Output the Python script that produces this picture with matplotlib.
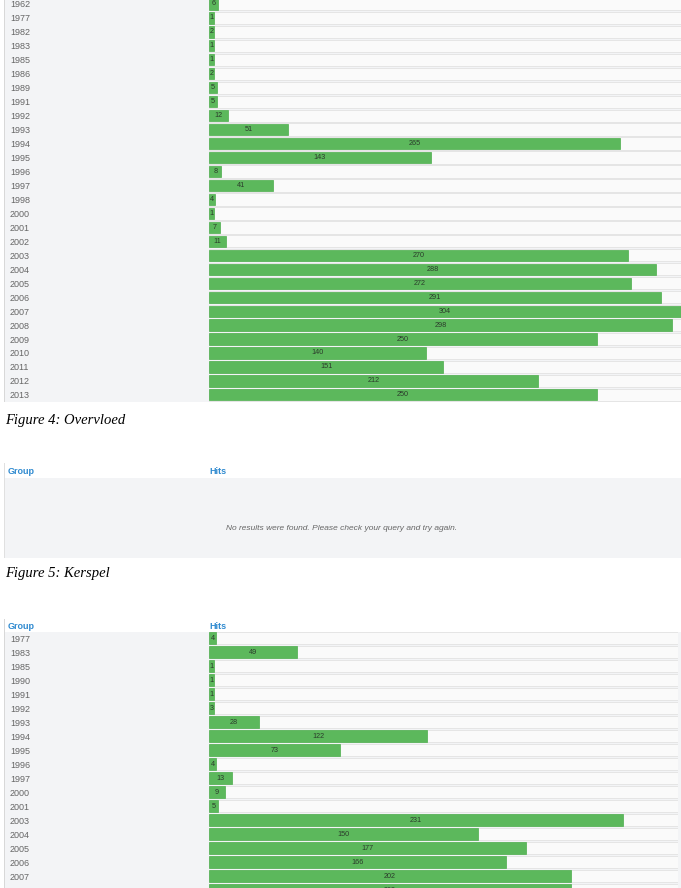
import numpy as np
import matplotlib
matplotlib.use('Agg')
import matplotlib.pyplot as plt
from matplotlib.patches import Rectangle

# Figure 4: Overvloed
years_overvloed = ['1962', '1977', '1982', '1983', '1985', '1986', '1989', '1991', '1992',
                   '1993', '1994', '1995', '1996', '1997', '1998', '2000', '2001', '2002',
                   '2003', '2004', '2005', '2006', '2007', '2008', '2009', '2010', '2011',
                   '2012', '2013']
hits_overvloed = [6, 1, 2, 1, 1, 2, 5, 5, 12,
                  51, 265, 143, 8, 41, 4, 1, 7, 11,
                  270, 288, 272, 291, 304, 298, 250, 140, 151,
                  212, 250]

# Figure 5: Kerspel -> no results
empty_message = 'No results were found. Please check your query and try again.'

# Figure 6 (cut off at the bottom of the page)
years_next = ['1977', '1983', '1985', '1990', '1991', '1992', '1993', '1994', '1995',
              '1996', '1997', '2000', '2001', '2003', '2004', '2005', '2006', '2007', '2008']
hits_next = [4, 49, 1, 1, 1, 3, 28, 122, 73,
             4, 13, 9, 5, 231, 150, 177, 166, 202, 202]
next_max = 262  # largest group lies below the crop

W, H = 681, 888
fig = plt.figure(figsize=(W / 100, H / 100), dpi=100)
fig.patch.set_facecolor('white')

GREEN = '#5cb85c'
GREEN_EDGE = '#4cae4c'
TRACK = '#fafafa'
TRACK_EDGE = '#e2e2e2'
PANEL = '#f3f4f6'
BLUE = '#2f8ad0'
FONT = 'Liberation Sans'


def box(x0, y0, x1, y1, color, z=0):
    # rectangle in pixel units (y from top)
    fig.patches.append(Rectangle((x0 / W, 1 - y1 / H), (x1 - x0) / W, (y1 - y0) / H,
                                 transform=fig.transFigure, facecolor=color,
                                 edgecolor='none', zorder=z))


def px_axes(x0, y0, x1, y1):
    ax = fig.add_axes([x0 / W, 1 - y1 / H, (x1 - x0) / W, (y1 - y0) / H])
    ax.set_zorder(5)
    return ax


def bar_table(ax, years, hits, xmax, label_x):
    n = len(years)
    y = np.arange(n)
    min_w = xmax * 0.0105  # css min-width of the progress bar
    shown = np.maximum(np.array(hits, dtype=float), min_w)
    ax.barh(y, [xmax] * n, height=0.88, color=TRACK, edgecolor=TRACK_EDGE, linewidth=0.6)
    ax.barh(y, shown, height=0.8, color=GREEN, edgecolor=GREEN_EDGE, linewidth=0.5)
    for yi, w, v in zip(y, shown, hits):
        ax.text(w / 2, yi, str(v), ha='center', va='center', fontsize=5.2,
                color='#2b3a2b', family=FONT)
    ax.set_xlim(0, xmax)
    ax.set_ylim(n - 0.5, -0.5)
    ax.set_yticks(y)
    ax.set_yticklabels(years, fontsize=6.5, color='#666666', family=FONT)
    ax.tick_params(axis='y', length=0, pad=label_x * 0.72)
    for lab in ax.get_yticklabels():
        lab.set_ha('left')
    ax.set_xticks([])
    ax.set_facecolor('none')
    for s in ax.spines.values():
        s.set_visible(False)


# --- Figure 4 table ---
box(4, 0, W, 402, PANEL)
box(3.5, 0, 4.5, 402, '#d8d8d8', 1)
row = 13.96
ax1 = px_axes(209, 4 - row / 2, 681, 4 + row * (len(years_overvloed) - 0.5))
bar_table(ax1, years_overvloed, hits_overvloed, max(hits_overvloed), 199)

fig.text(5 / W, 1 - 420 / H, 'Figure 4: Overvloed', fontsize=10.5, style='italic',
         family='Liberation Serif', va='center', ha='left')

# --- Figure 5 table (empty) ---
box(4, 463, W, 478, 'white', 1)
box(4, 478, W, 558, PANEL)
box(3.5, 463, 4.5, 558, '#e0e0e0', 1)
fig.text(8 / W, 1 - 471 / H, 'Group', fontsize=6.5, color=BLUE, family=FONT,
         weight='bold', va='center')
fig.text(209 / W, 1 - 471 / H, 'Hits', fontsize=6.5, color=BLUE, family=FONT,
         weight='bold', va='center')
fig.text(342 / W, 1 - 529 / H, empty_message, fontsize=6, color='#666666',
         style='italic', family=FONT, ha='center', va='center')

fig.text(5 / W, 1 - 574 / H, 'Figure 5: Kerspel', fontsize=10.5, style='italic',
         family='Liberation Serif', va='center', ha='left')

# --- next table (cut off) ---
box(4, 619, W, 632, 'white', 1)
box(4, 632, W, H, PANEL)
box(3.5, 619, 4.5, H, '#d8d8d8', 1)
fig.text(8 / W, 1 - 626 / H, 'Group', fontsize=6.5, color=BLUE, family=FONT,
         weight='bold', va='center')
fig.text(209 / W, 1 - 626 / H, 'Hits', fontsize=6.5, color=BLUE, family=FONT,
         weight='bold', va='center')
row2 = 14.0
ax2 = px_axes(209, 638 - row2 / 2, 678, 638 + row2 * (len(years_next) - 0.5))
bar_table(ax2, years_next, hits_next, next_max, 199)

fig.savefig('out.png', dpi=100)
